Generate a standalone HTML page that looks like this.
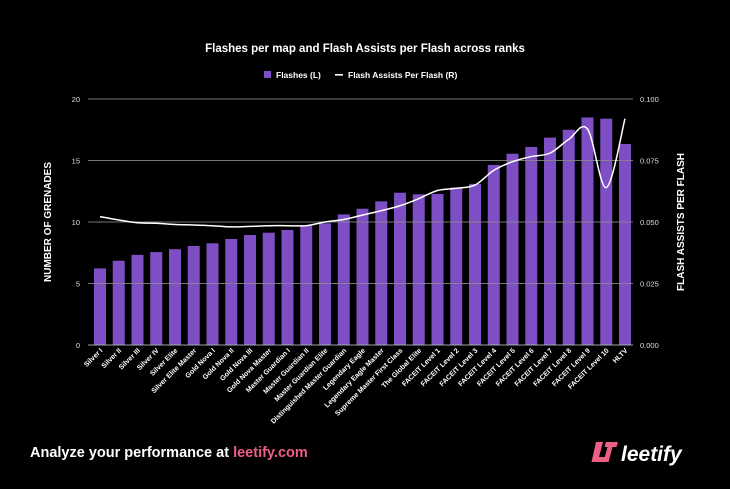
<!DOCTYPE html>
<html><head><meta charset="utf-8">
<style>
html,body{margin:0;padding:0;background:#000;}
body{width:730px;height:489px;overflow:hidden;font-family:"Liberation Sans",sans-serif;}
</style></head>
<body>
<svg id="chart" width="730" height="489" viewBox="0 0 730 489" xmlns="http://www.w3.org/2000/svg" style="display:block">
<rect x="0" y="0" width="730" height="489" fill="#000"/>
<text x="365" y="52" fill="#fff" font-size="11.5" font-weight="bold" text-anchor="middle">Flashes per map and Flash Assists per Flash across ranks</text>
<g>
<rect x="264" y="71" width="7" height="7" fill="#7e4fc4"/>
<text x="276" y="78" fill="#fff" font-size="8.5" font-weight="bold">Flashes (L)</text>
<rect x="335" y="74" width="8" height="1.6" fill="#fff"/>
<text x="348" y="78" fill="#fff" font-size="8.5" font-weight="bold">Flash Assists Per Flash (R)</text>
</g>
<g id="bars"></g>
<g id="grid"></g>
<g id="line"></g>
<g id="labels"></g>
<text transform="translate(51,222) rotate(-90)" fill="#fff" font-size="10" font-weight="bold" text-anchor="middle">NUMBER OF GRENADES</text>
<text transform="translate(684,222) rotate(-90)" fill="#fff" font-size="10" font-weight="bold" text-anchor="middle">FLASH ASSISTS PER FLASH</text>
<text x="30" y="457" fill="#fff" font-size="14.5" font-weight="bold">Analyze your performance at <tspan fill="#ee5f86">leetify.com</tspan></text>
<g>
<path d="M596 442 h7 l-4 15 h7 l-1.5 5 h-13 z" fill="#ee5f86"/>
<path d="M606 442 h12 l-1.5 5 h-4 l-4 15 h-5 l4 -15 h-3 z" fill="#ee5f86"/>
<text x="621" y="461" fill="#fff" font-size="21" font-weight="bold" font-style="italic">leetify</text>
</g>
</svg>
<script>
const categories=["Silver I","Silver II","Silver III","Silver IV","Silver Elite","Silver Elite Master","Gold Nova I","Gold Nova II","Gold Nova III","Gold Nova Master","Master Guardian I","Master Guardian II","Master Guardian Elite","Distinguished Master Guardian","Legendary Eagle","Legendary Eagle Master","Supreme Master First Class","The Global Elite","FACEIT Level 1","FACEIT Level 2","FACEIT Level 3","FACEIT Level 4","FACEIT Level 5","FACEIT Level 6","FACEIT Level 7","FACEIT Level 8","FACEIT Level 9","FACEIT Level 10","HLTV"];
const flashes=[6.23,6.85,7.33,7.55,7.79,8.05,8.27,8.62,8.94,9.13,9.35,9.7,9.89,10.62,11.08,11.68,12.38,12.25,12.28,12.8,13.1,14.64,15.55,16.1,16.86,17.5,18.5,18.4,16.34];
const assists=[0.0522,0.0508,0.0497,0.0495,0.049,0.0488,0.0485,0.048,0.0482,0.0485,0.0485,0.0485,0.05,0.051,0.0528,0.0546,0.0566,0.0595,0.0628,0.0637,0.065,0.071,0.0745,0.0766,0.078,0.0836,0.0878,0.064,0.092];
const leftTicks=[0,5,10,15,20];
const rightTicks=["0.000","0.025","0.050","0.075","0.100"];
const NS="http://www.w3.org/2000/svg";
const X0=100,STEP=18.75,Y0=345,YT=99;
const xPos=i=>X0+i*STEP;
const yL=v=>Y0-(v/20)*(Y0-YT);
const yR=v=>Y0-(v/0.1)*(Y0-YT);
function mk(tag,attrs,parent){const e=document.createElementNS(NS,tag);for(const k in attrs)e.setAttribute(k,attrs[k]);parent.appendChild(e);return e;}
const grid=document.getElementById('grid');
leftTicks.forEach((t,i)=>{
  const y=yL(t);
  const l=mk('line',{x1:88,x2:633,y1:y,y2:y,stroke:i==0?'#bbb':'#8a8a8a','stroke-width':1,'stroke-opacity':0.85},grid);
  
  
  const a=mk('text',{x:80,y:y+3,fill:'#ddd','font-size':7.5,'text-anchor':'end'},grid);a.textContent=t;
  
  
  const b=mk('text',{x:640,y:y+3,fill:'#ddd','font-size':7.5},grid);b.textContent=rightTicks[i];
  
  
});
const bars=document.getElementById('bars');
flashes.forEach((v,i)=>{
  const r=mk('rect',{x:xPos(i)-6,y:yL(v),width:12,height:Y0-yL(v),fill:'#7e4fc4'},bars);
  
  
});
const labels=document.getElementById('labels');
categories.forEach((c,i)=>{
  const x=xPos(i)+3,y=Y0+6;
  const t=mk('text',{x:x,y:y,fill:'#fff','font-size':7,'font-weight':'bold','text-anchor':'end',transform:`rotate(-45 ${x} ${y})`},labels);
  t.textContent=c;
  
  
});
const pts=assists.map((v,i)=>[xPos(i),yR(v)]);
let d=`M${pts[0][0]},${pts[0][1]}`;
for(let i=0;i<pts.length-1;i++){
  const p0=pts[i-1]||pts[i],p1=pts[i],p2=pts[i+1],p3=pts[i+2]||p2;
  const c1=[p1[0]+(p2[0]-p0[0])/6,p1[1]+(p2[1]-p0[1])/6];
  const c2=[p2[0]-(p3[0]-p1[0])/6,p2[1]-(p3[1]-p1[1])/6];
  d+=` C${c1[0]},${c1[1]} ${c2[0]},${c2[1]} ${p2[0]},${p2[1]}`;
}
const line=mk('path',{d:d,fill:'none',stroke:'#fff','stroke-width':1.5},document.getElementById('line'));


</script>
</body></html>
